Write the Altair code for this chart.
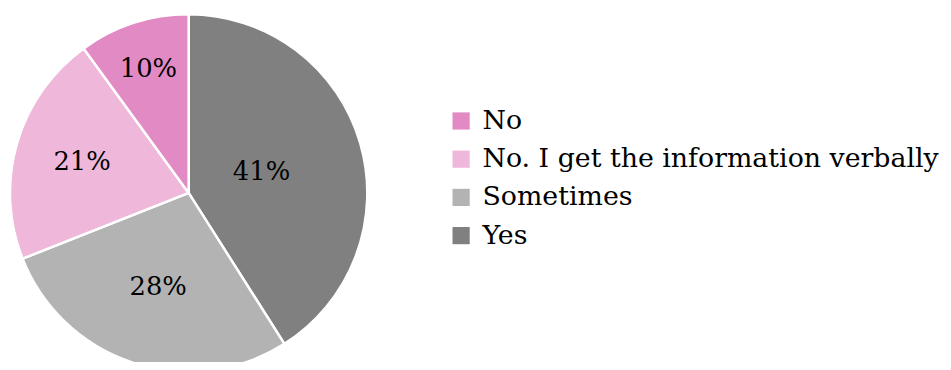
import altair as alt
import pandas as pd

categories = ["Yes", "Sometimes", "No. I get the information verbally", "No"]
values = [41, 28, 21, 10]
legend_order = ["No", "No. I get the information verbally", "Sometimes", "Yes"]
colors = ["#e28ac4", "#efb8db", "#b3b3b3", "#808080"]

df = pd.DataFrame({"answer": categories, "value": values})

R = 180
FONT = "DejaVu Serif"

base = alt.Chart(df)

arcs = base.mark_arc(outerRadius=R, stroke="white", strokeWidth=2.5).encode(
    theta=alt.Theta("value:Q", stack=True),
    order=alt.Order("value:Q", sort="descending"),
    color=alt.Color(
        "answer:N",
        scale=alt.Scale(domain=legend_order, range=colors),
        legend=alt.Legend(
            title=None,
            orient="none",
            legendX=441,
            legendY=79,
            symbolType="square",
            symbolSize=300,
            symbolStrokeWidth=0,
            labelFont=FONT,
            labelFontSize=27,
            labelColor="black",
            labelLimit=1000,
            labelOffset=8,
            rowPadding=10.5,
        ),
    ),
)

labels = (
    base.transform_window(
        cum="sum(value)",
        sort=[alt.SortField("value", order="descending")],
        frame=[None, 0],
    )
    .transform_calculate(
        mid="datum.cum - datum.value / 2",
        label="datum.value + '%'",
        span="datum.value / 100 * 360",
        r=f"(max(min((datum.span - 10) / 110 * -0.3, 0), -0.5) + 0.8) * {R}",
    )
    .mark_text(font=FONT, fontSize=26, color="black")
    .encode(
        theta=alt.Theta("mid:Q", stack=None),
        radius=alt.Radius("r:Q", scale=None),
        text="label:N",
    )
)

chart = (
    alt.layer(arcs, labels)
    .properties(
        width=360,
        height=330,
        padding={"left": 2, "top": 20, "right": 580, "bottom": 4},
        autosize=alt.AutoSizeParams(type="none"),
    )
    .configure_view(stroke=None)
)

chart.save("out.html", embed_options={"renderer": "svg", "actions": False})
